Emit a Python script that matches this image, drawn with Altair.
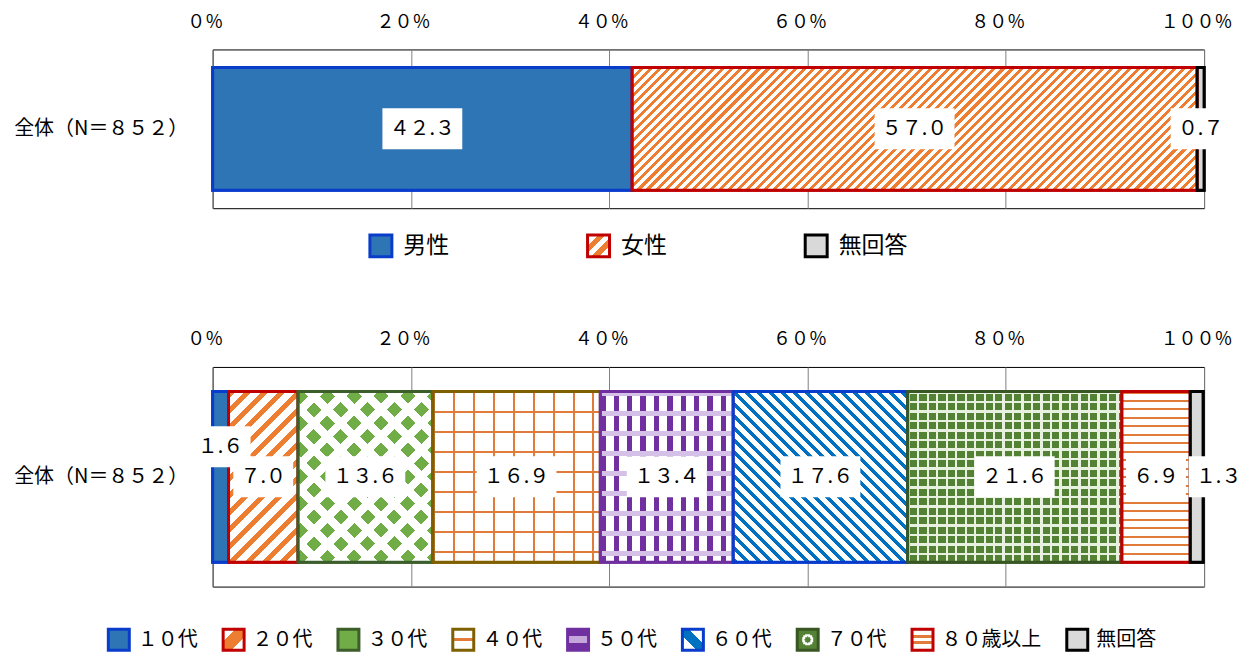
import json
import math
import altair as alt
import pandas as pd

# ---------------- data ----------------
group_label = "全体（N＝８５２）"

sex_cats = ["男性", "女性", "無回答"]
sex_vals = [42.3, 57.0, 0.7]

age_cats = ["１０代", "２０代", "３０代", "４０代", "５０代", "６０代", "７０代", "８０歳以上", "無回答"]
age_vals = [1.6, 7.0, 13.6, 16.9, 13.4, 17.6, 21.6, 6.9, 1.3]

x_ticks = [0, 20, 40, 60, 80, 100]
x_tick_labels = ["０％", "２０％", "４０％", "６０％", "８０％", "１００％"]

# ---------------- styles ----------------
FONT = "Noto Sans CJK JP"
PLOT_W = 993
TOP_H, TOP_BAR = 159, 123
BOT_H, BOT_BAR = 220, 171
LBL_SIZE = 20
T = "rgba(255,255,255,0)"
ORANGE = "#ED7D31"
ORANGE2 = "#E07B39"
BLUE_FILL = "#2E75B6"
BLUE_EDGE = "#0A3CCC"
RED_EDGE = "#C00000"
GRAY = "#D9D9D9"

# label nudges (dx, dy in px) used to avoid overlapping labels
age_label_shift = {"１０代": (0, -30), "無回答": (22, 0)}

FW = str.maketrans("0123456789", "０１２３４５６７８９")


def fw_label(v):
    return f"{v:.1f}".translate(FW)


def band_stops(period, frac, c_on, c_off):
    stops = []
    t = -period
    while t < 1:
        a, b, e = t, t + frac * period, t + period
        for off, c in ((a, c_on), (b, c_on), (b, c_off), (e, c_off)):
            stops.append({"offset": round(min(max(off, 0.0), 1.0), 5), "color": c})
        t = e
    return stops


def grad(x1, y1, x2, y2, stops):
    return {"gradient": "linear", "x1": x1, "y1": y1, "x2": x2, "y2": y2, "stops": stops}


def diag_up(W, H, P, frac, c_on, c_off):  # "/" stripes
    s = (W + H) / (W * W + H * H)
    return grad(0, 0, s * W, s * H, band_stops(P * math.sqrt(2) / (W + H), frac, c_on, c_off))


def diag_down(W, H, P, frac, c_on, c_off):  # "\" stripes
    s = (W + H) / (W * W + H * H)
    return grad(0, 1, s * W, 1 - s * H, band_stops(P * math.sqrt(2) / (W + H), frac, c_on, c_off))


def vlines(W, H, P, frac, c_on, c_off):
    return grad(0, 0, 1, 0, band_stops(P / W, frac, c_on, c_off))


def hlines(W, H, P, frac, c_on, c_off):
    return grad(0, 0, 0, 1, band_stops(P / H, frac, c_on, c_off))


def sex_pattern(cat, W, H):
    if cat == "男性":
        return [BLUE_FILL]
    if cat == "女性":
        return [diag_up(W, H, 6.4, 0.45, ORANGE, "#FFFFFF")]
    return [GRAY]


def age_pattern(cat, W, H):
    if cat == "１０代":
        return [BLUE_FILL]
    if cat == "２０代":
        return [diag_up(W, H, 12, 0.42, ORANGE, "#FFFFFF")]
    if cat == "３０代":
        return ["#70AD47", diag_down(W, H, 19, 0.56, T, "#FFFFFF"), diag_up(W, H, 19, 0.56, T, "#FFFFFF")]
    if cat == "４０代":
        return ["#FFFFFF", vlines(W, H, 20, 0.1, ORANGE2, T), hlines(W, H, 20, 0.1, ORANGE2, T)]
    if cat == "５０代":
        return ["#FFFFFF", vlines(W, H, 13.4, 0.4, "#7030A0", T), hlines(W, H, 20, 0.22, "#D5C0E8", T)]
    if cat == "６０代":
        return [diag_down(W, H, 8.5, 0.45, "#0070C0", "#FFFFFF")]
    if cat == "７０代":
        return ["#548235", vlines(W, H, 9.5, 0.25, "#E8F0E0", T), hlines(W, H, 9.5, 0.25, "#E8F0E0", T)]
    if cat == "８０歳以上":
        return [hlines(W, H, 8.5, 0.25, ORANGE2, "#FFFFFF")]
    return [GRAY]


def sw_expr(obj):
    return {"expr": json.dumps(obj, ensure_ascii=False)}


def unit_bands(stops_spec):
    st = []
    for a, b, c in stops_spec:
        st.append({"offset": a, "color": c})
        st.append({"offset": b, "color": c})
    return st


sex_swatch = [
    BLUE_FILL,
    sw_expr(grad(0, 0, 1, 1, unit_bands([(0, .25, "#FFFFFF"), (.25, .42, ORANGE), (.42, .58, "#FFFFFF"), (.58, .75, ORANGE), (.75, 1, "#FFFFFF")]))),
    GRAY,
]
age_swatch = [
    BLUE_FILL,
    sw_expr(grad(0, 0, 1, 1, unit_bands([(0, .3, "#FFFFFF"), (.3, .7, ORANGE), (.7, 1, "#FFFFFF")]))),
    "#70AD47",
    sw_expr(grad(0, 0, 0, 1, unit_bands([(0, .44, "#FFFFFF"), (.44, .56, ORANGE2), (.56, 1, "#FFFFFF")]))),
    sw_expr(grad(0, 0, 0, 1, unit_bands([(0, .33, "#7030A0"), (.33, .67, "#C4A6DB"), (.67, 1, "#7030A0")]))),
    sw_expr(grad(0, 1, 1, 0, unit_bands([(0, .35, "#FFFFFF"), (.35, .65, "#0070C0"), (.65, 1, "#FFFFFF")]))),
    sw_expr({"gradient": "radial", "x1": .5, "y1": .5, "r1": 0, "x2": .5, "y2": .5, "r2": .5,
             "stops": unit_bands([(0, .3, "#548235"), (.3, .55, "#FFFFFF"), (.55, 1, "#548235")])}),
    sw_expr(grad(0, 0, 0, 1, unit_bands([(0, .28, "#FFFFFF"), (.28, .42, ORANGE2), (.42, .58, "#FFFFFF"), (.58, .72, ORANGE2), (.72, 1, "#FFFFFF")]))),
    GRAY,
]

sex_strokes = [BLUE_EDGE, RED_EDGE, "#000000"]
age_strokes = [BLUE_EDGE, RED_EDGE, "#3B5E2B", "#7F6000", "#7030A0", BLUE_EDGE, "#385723", RED_EDGE, "#000000"]

label_expr = " : ".join(f"datum.value == {v} ? '{l}'" for v, l in zip(x_ticks, x_tick_labels)) + " : ''"


def panel(cats, vals, pattern_fn, swatch, strokes, height, bar_h, legend, shifts):
    df = pd.DataFrame({
        "group": [group_label] * len(cats),
        "cat": cats,
        "value": vals,
        "order": list(range(len(cats))),
        "label": [fw_label(v) for v in vals],
    })
    pad_outer = (height / bar_h - 1) / 2
    x_axis = alt.Axis(orient="top", values=x_ticks, labelExpr=label_expr, title=None,
                      grid=True, gridColor="#808080", gridWidth=1, ticks=False, domain=False,
                      labelFont=FONT, labelFontSize=18, labelColor="#000000", labelPadding=18,
                      labelOffset=-8, labelFlush=False)
    y_axis = alt.Axis(title=None, domain=False, ticks=False, labelFont=FONT, labelFontSize=20,
                      labelColor="#000000", labelPadding=25)
    y_enc = alt.Y("group:N", axis=y_axis, scale=alt.Scale(paddingInner=0, paddingOuter=pad_outer))
    x_scale = alt.Scale(domain=[0, 100], nice=False)

    def xe(field):
        return alt.X(field, axis=x_axis, scale=x_scale)

    base = (alt.Chart(df)
            .transform_window(cum="sum(value)", sort=[alt.SortField("order")], frame=[None, 0])
            .transform_calculate(start="datum.cum - datum.value",
                                 mid="datum.cum - datum.value / 2",
                                 half=f"((length(datum.label) - 1) * 20 + 20) / 2 * 100 / {PLOT_W}")
            .transform_calculate(box_lo="datum.mid - datum.half", box_hi="datum.mid + datum.half"))

    layers = [
        base.mark_bar(strokeWidth=3).encode(
            x=xe("start:Q"), x2="cum:Q", y=y_enc,
            color=alt.Color("cat:N", scale=alt.Scale(domain=cats, range=swatch), legend=legend),
            stroke=alt.Stroke("cat:N", scale=alt.Scale(domain=cats, range=strokes), legend=legend),
        )
    ]
    for c, v in zip(cats, vals):
        W = v / 100 * PLOT_W
        for f in pattern_fn(c, W, bar_h):
            layers.append(
                base.transform_filter(alt.datum.cat == c)
                .mark_bar(fill=f, strokeWidth=0)
                .encode(x=xe("start:Q"), x2="cum:Q", y=y_enc)
            )
    layers.append(
        base.mark_bar(filled=False, strokeWidth=3).encode(
            x=xe("start:Q"), x2="cum:Q", y=y_enc,
            stroke=alt.Stroke("cat:N", scale=alt.Scale(domain=cats, range=strokes), legend=None),
        )
    )
    shifted = list(shifts.keys())
    normal = base.transform_filter(~alt.FieldOneOfPredicate(field="cat", oneOf=shifted)) if shifted else base
    layers.append(normal.mark_bar(color="#FFFFFF", height=41).encode(x=xe("box_lo:Q"), x2="box_hi:Q", y=y_enc))
    layers.append(normal.mark_text(font=FONT, fontSize=LBL_SIZE, color="#000000").encode(x=xe("mid:Q"), y=y_enc, text="label:N"))
    for c, (dx, dy) in shifts.items():
        one = base.transform_filter(alt.datum.cat == c)
        layers.append(one.mark_bar(color="#FFFFFF", height=41, xOffset=dx, yOffset=dy)
                      .encode(x=xe("box_lo:Q"), x2="box_hi:Q", y=y_enc))
        layers.append(one.mark_text(font=FONT, fontSize=LBL_SIZE, color="#000000", dx=dx, dy=dy)
                      .encode(x=xe("mid:Q"), y=y_enc, text="label:N"))

    return alt.layer(*layers).properties(width=PLOT_W, height=height)


sex_legend = alt.Legend(title=None, orient="none", direction="horizontal", columns=3, columnPadding=132,
                        legendX=156, legendY=184, symbolType="square", symbolSize=484, symbolStrokeWidth=3,
                        labelFont=FONT, labelFontSize=23, labelColor="#000000", labelOffset=10, padding=0)
age_legend = alt.Legend(title=None, orient="none", direction="horizontal", columns=9, columnPadding=19,
                        legendX=-106, legendY=261, symbolType="square", symbolSize=441, symbolStrokeWidth=3,
                        labelFont=FONT, labelFontSize=20, labelColor="#000000", labelOffset=7, padding=0)

top = panel(sex_cats, sex_vals, sex_pattern, sex_swatch, sex_strokes, TOP_H, TOP_BAR, sex_legend, {})
bottom = panel(age_cats, age_vals, age_pattern, age_swatch, age_strokes, BOT_H, BOT_BAR, age_legend, age_label_shift)

chart = (alt.vconcat(top, bottom, spacing=66)
         .resolve_scale(x="independent", y="independent", color="independent", stroke="independent")
         .resolve_legend(color="independent", stroke="independent")
         .configure_view(stroke="#000000", strokeWidth=1)
         .properties(background="#FFFFFF", padding={"left": 13, "top": 12, "right": 5, "bottom": 5}))

chart.save("out.html", embed_options={"renderer": "svg", "actions": False})
